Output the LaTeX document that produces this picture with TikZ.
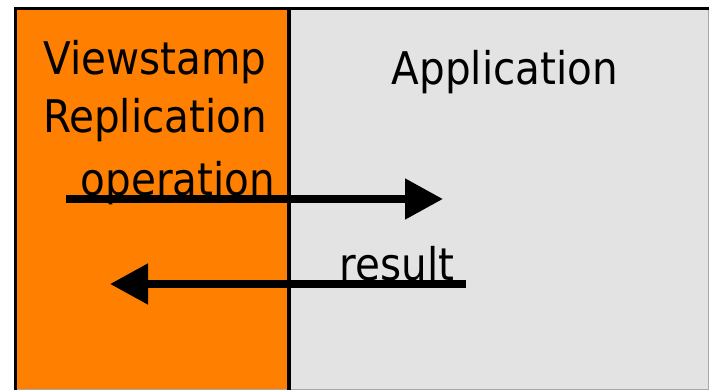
\documentclass[tikz,border=0pt]{standalone}
\usepackage{fontspec}
\setmainfont{DejaVu Sans Condensed}
\usetikzlibrary{arrows.meta}
\definecolor{vrorange}{HTML}{FF8000}
\definecolor{appgray}{HTML}{E3E3E3}
\definecolor{edgegray}{HTML}{A8A8A8}

\begin{document}
\begin{tikzpicture}[x=1pt,y=-1pt,font=\fontsize{45}{54}\selectfont,
    flow/.style={line width=8pt,-{Triangle[length=38pt,width=39pt]}}]
  \useasboundingbox (0,0) rectangle (709,390);
  \clip (0,0) rectangle (709,390);
  % the two layers
  \fill[vrorange] (15.5,8.5) rectangle (289,395);
  \fill[appgray] (289,8.5) rectangle (715,395);
  \draw[edgegray,line width=1pt] (15,389.5)--(709,389.5);
  \draw[edgegray,line width=1pt] (708.5,8.5)--(708.5,390);
  \draw[black,line width=3pt] (14,8.5)--(709,8.5);
  \draw[black,line width=3pt] (15.5,7)--(15.5,390);
  \draw[black,line width=3.5pt] (289,7)--(289,390);
  % labels
  \node[anchor=base] (vrtop) at (155,75) {Viewstamp};
  \node[anchor=base] (vrbot) at (155,133) {Replication};
  \node[anchor=base] (app) at (505,85) {Application};
  \node[anchor=base] (oplabel) at (178,196) {operation};
  \node[anchor=base] (reslabel) at (397,280) {result};
  % calls across the boundary
  \coordinate (opfrom) at (66,199);
  \coordinate (opto) at (443,199);
  \coordinate (resfrom) at (466,284);
  \coordinate (resto) at (110,284);
  \draw[flow] (opfrom)--(opto);
  \draw[flow] (resfrom)--(resto);
\end{tikzpicture}
\end{document}
